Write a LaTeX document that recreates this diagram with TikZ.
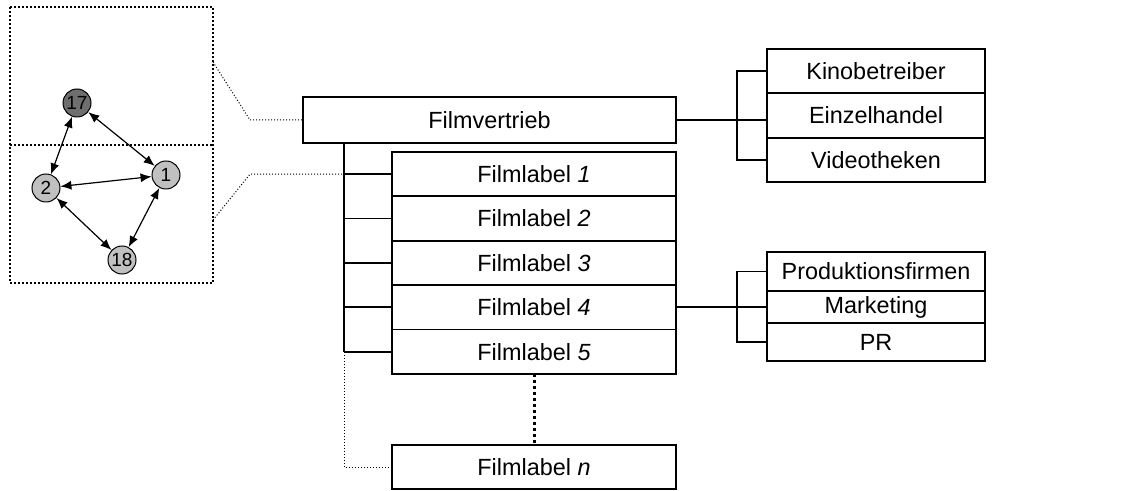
\documentclass[tikz,border=0pt]{standalone}
\usepackage{fontspec}
\setmainfont{Liberation Sans}
\usetikzlibrary{positioning,arrows.meta}
\definecolor{lightnode}{HTML}{C0C0C0}
\definecolor{darknode}{HTML}{6E6E6E}

\begin{document}
\begin{tikzpicture}[x=0.5pt, y=-0.5pt, node distance=0pt,
		box/.style={rectangle, draw, line width=0.9pt, outer sep=0pt, inner sep=0pt, font=\fontsize{11.7}{14}\selectfont},
		labelbox/.style={box, minimum width=142pt, minimum height=22.2pt},
		partnerbox/.style={box, minimum width=109pt, minimum height=22.15pt},
		pane/.style={rectangle, outer sep=0pt, minimum width=101.5pt, minimum height=69pt},
		frame/.style={line width=0.9pt, dash pattern=on 1pt off 1pt},
		actor/.style={circle, draw, line width=0.5pt, fill=lightnode, minimum size=14pt, inner sep=0pt, font=\fontsize{9.5}{10}\selectfont},
		link/.style={line width=0.9pt},
		hint/.style={line width=0.5pt, densely dotted},
		gap/.style={line width=1.5pt, dash pattern=on 1.5pt off 1.5pt},
		pair/.style={line width=0.6pt, {Latex[length=5.5pt,width=4.5pt]}-{Latex[length=5.5pt,width=4.5pt]}}]
		\useasboundingbox (0,0) rectangle (1134,491);

		% network on the left
		\node (upper) [pane] at (111.5,76) {};
		\node (lower) [pane] at (111.5,214) {};
		\draw[frame] (upper.north west) rectangle (lower.south east);
		\draw[frame] (upper.south west) -- (upper.south east);
		\node (n17) [actor, fill=darknode] at (77,103) {17};
		\node (n2) [actor] at (46,188) {2};
		\node (n1) [actor] at (166,175) {1};
		\node (n18) [actor] at (122,260) {18};
		\draw[pair] (n17) -- (n2);
		\draw[pair] (n17) -- (n1);
		\draw[pair] (n2) -- (n1);
		\draw[pair] (n2) -- (n18);
		\draw[pair] (n1) -- (n18);

		% distribution and labels
		\node (vertrieb) [box, minimum width=186.5pt, minimum height=23pt] at (489.5,120) {Filmvertrieb};
		\node (label1) [labelbox] at (534,174.2) {Filmlabel \textit{1}};
		\node (label2) [labelbox, below=of label1] {Filmlabel \textit{2}};
		\node (label3) [labelbox, below=of label2] {Filmlabel \textit{3}};
		\node (label4) [labelbox, below=of label3] {Filmlabel \textit{4}};
		\node (label5) [labelbox, below=of label4] {Filmlabel \textit{5}};
		\node (labeln) [labelbox] at (534,467) {Filmlabel \textit{n}};

		% partners
		\node (kino) [partnerbox] at (876,71.2) {Kinobetreiber};
		\node (einzel) [partnerbox, below=of kino] {Einzelhandel};
		\node (video) [partnerbox, below=of einzel] {Videotheken};
		\node (prod) [partnerbox, minimum height=19.5pt] at (876,271.5) {Produktionsfirmen};
		\node (mark) [partnerbox, minimum height=16pt, below=of prod] {Marketing};
		\node (pr) [partnerbox, minimum height=19pt, below=of mark] {PR};

		\draw[hint] ([yshift=7pt]upper.east) -- ([xshift=-26.5pt]vertrieb.west) -- (vertrieb.west);
		\draw[hint] ([yshift=-3pt]lower.east) -- ([xshift=-71pt]label1.west) -- (label1.west);

		\coordinate (trunk) at (344,0);
		\draw[link] (trunk |- vertrieb.south) -- (trunk |- label5.west);
		\foreach \i in {1,...,5}
			\draw[link] (trunk |- label\i.west) -- (label\i.west);
		\draw[hint] (trunk |- label5.west) |- (labeln.west);
		\draw[gap] (label5.south) -- (labeln.north);

		\coordinate (fork) at (737,0);
		\draw[link] (vertrieb.east) -- (einzel.west |- vertrieb.east);
		\draw[link] (kino.west) -| (fork |- video.west) -- (video.west);
		\draw[link] (label4.east) -- (mark.west |- label4.east);
		\draw[link] (prod.west) -| (fork |- pr.west) -- (pr.west);

	\end{tikzpicture}
\end{document}
